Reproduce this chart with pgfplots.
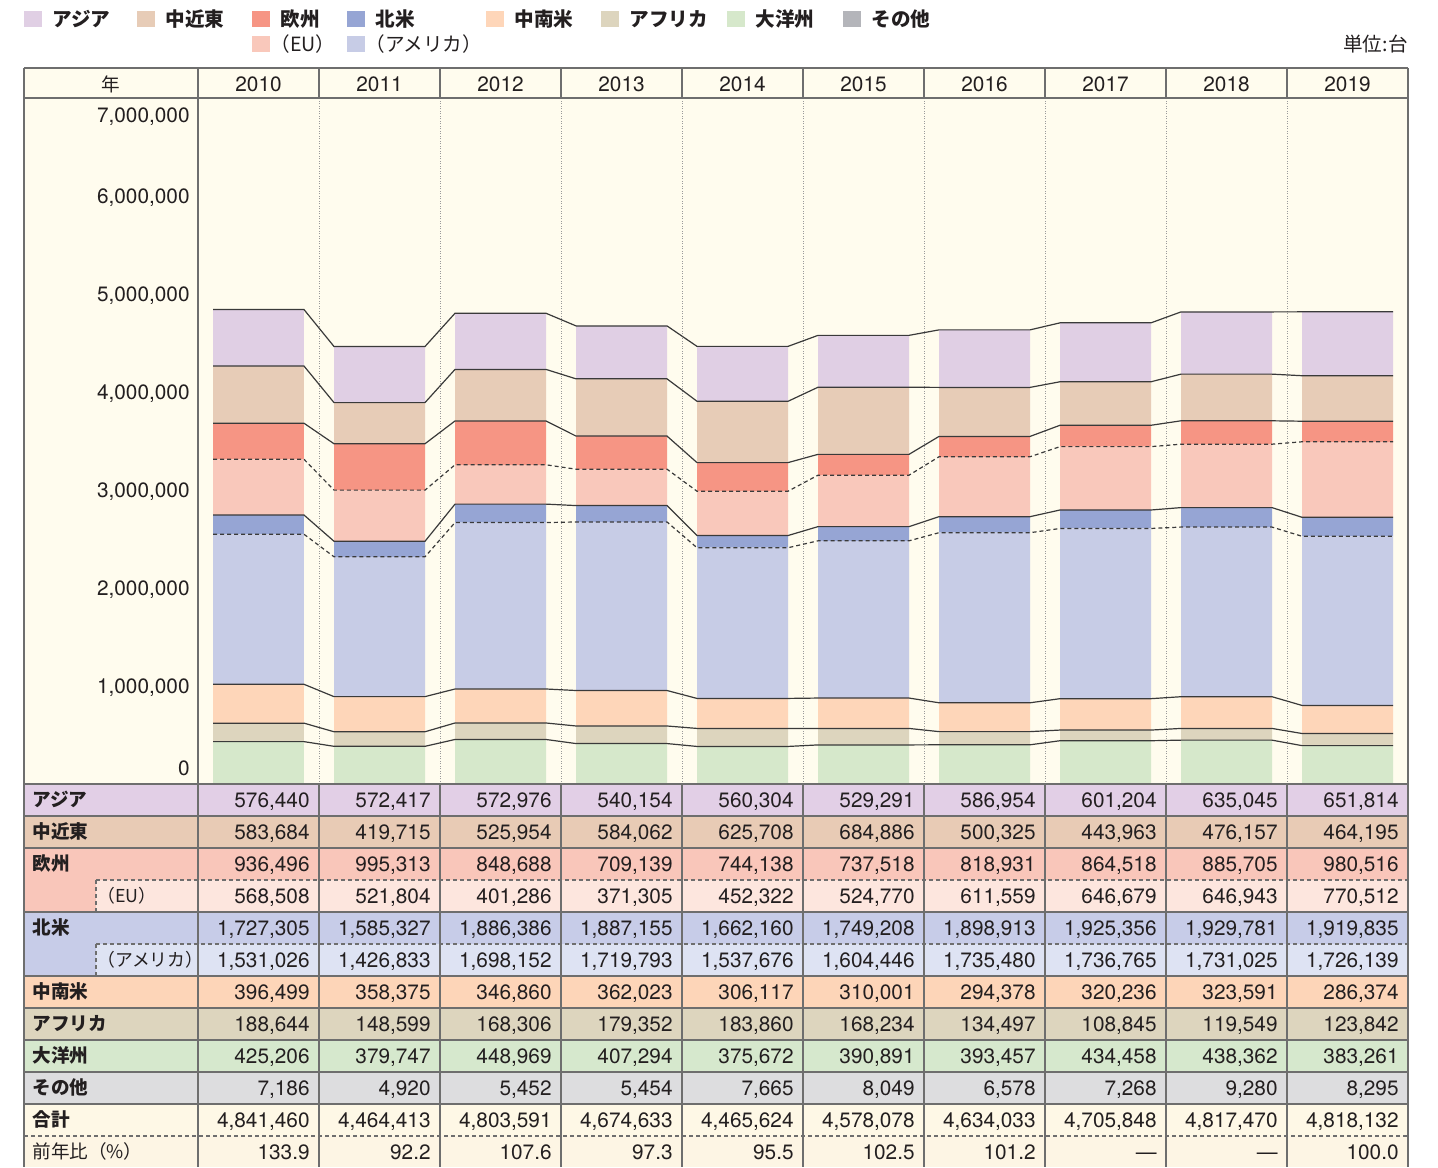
\documentclass[border=0pt]{standalone}
\usepackage{pgfplots}
\usepackage{pgfplotstable}
\pgfplotsset{compat=1.18}
\usepackage{fontspec}
\setmainfont{TeX Gyre Heros}
\newfontfamily\jp{Noto Sans CJK JP}

\definecolor{bgcream}{HTML}{FFFCEE}
\definecolor{txt}{HTML}{231F20}
\definecolor{tline}{HTML}{6E6E6E}
\definecolor{gridc}{HTML}{9A9A9A}
\definecolor{segline}{HTML}{3A3A3A}
% bar colours
\definecolor{cAsia}{HTML}{E0CFE4}
\definecolor{cMe}{HTML}{E7CCB7}
\definecolor{cEur}{HTML}{F69584}
\definecolor{cEU}{HTML}{F9C8BB}
\definecolor{cNam}{HTML}{96A5D4}
\definecolor{cUSA}{HTML}{C7CCE6}
\definecolor{cLat}{HTML}{FED6B9}
\definecolor{cAfr}{HTML}{DDD5BE}
\definecolor{cOce}{HTML}{D6E8CB}
\definecolor{cOth}{HTML}{B4B5BA}
% table row colours
\definecolor{rAsia}{HTML}{E2CFE6}
\definecolor{rMe}{HTML}{E8CBB5}
\definecolor{rEur}{HTML}{F9C6BA}
\definecolor{rEU}{HTML}{FDE6DE}
\definecolor{rNam}{HTML}{C7CCE8}
\definecolor{rUSA}{HTML}{DEE3F3}
\definecolor{rLat}{HTML}{FDD5B8}
\definecolor{rAfr}{HTML}{DDD5BE}
\definecolor{rOce}{HTML}{D6E8CD}
\definecolor{rOth}{HTML}{DDDDDF}
\definecolor{rTot}{HTML}{FEF8E6}
\definecolor{rYoy}{HTML}{FDF5E4}

\newcommand\nf{\fontsize{10.4pt}{12pt}\selectfont}
\newcommand\jf{\jp\fontsize{9.3pt}{11pt}\selectfont}
\newcommand\jsub{\jp\fontsize{8.9pt}{11pt}\selectfont}
\newcommand\jleg{\jp\fontsize{9.8pt}{11pt}\selectfont}
\newcommand\yl[2]{\smash{\raisebox{#1}{#2}}}

\ExplSyntaxOn
\cs_new:Npn \rs_three:n #1
  {
    \int_compare:nNnT {#1} < {100} {0}
    \int_compare:nNnT {#1} < {10} {0}
    \int_eval:n {#1}
  }
\cs_new:Npn \rs_commify:n #1
  {
    \int_compare:nNnTF {#1} < {1000}
      { \int_eval:n {#1} }
      {
        \rs_commify:n { \int_div_truncate:nn {#1} {1000} } ,
        \rs_three:n { \int_mod:nn {#1} {1000} }
      }
  }
\NewDocumentCommand \commify { m } { \rs_commify:n {#1} }
\ExplSyntaxOff

% exports by region, units
\pgfplotstableread{
x year asia me eur eu nam usa lat afr oce oth total yoy
0 2010 576440 583684 936496 568508 1727305 1531026 396499 188644 425206 7186 4841460 133.9
1 2011 572417 419715 995313 521804 1585327 1426833 358375 148599 379747 4920 4464413 92.2
2 2012 572976 525954 848688 401286 1886386 1698152 346860 168306 448969 5452 4803591 107.6
3 2013 540154 584062 709139 371305 1887155 1719793 362023 179352 407294 5454 4674633 97.3
4 2014 560304 625708 744138 452322 1662160 1537676 306117 183860 375672 7665 4465624 95.5
5 2015 529291 684886 737518 524770 1749208 1604446 310001 168234 390891 8049 4578078 102.5
6 2016 586954 500325 818931 611559 1898913 1735480 294378 134497 393457 6578 4634033 101.2
7 2017 601204 443963 864518 646679 1925356 1736765 320236 108845 434458 7268 4705848 —
8 2018 635045 476157 885705 646943 1929781 1731025 323591 119549 438362 9280 4817470 —
9 2019 651814 464195 980516 770512 1919835 1726139 286374 123842 383261 8295 4818132 100.0
}\data

% each year twice (left and right bar edge) for the connector lines
\pgfplotstablevertcat{\dd}{\data}
\pgfplotstablevertcat{\dd}{\data}
\pgfplotstablecreatecol[create col/expr={\thisrow{x}+(\pgfplotstablerow<10 ? -0.376 : 0.376)}]{xx}{\dd}
\pgfplotstablesort[sort key=xx]{\dds}{\dd}

\tikzset{
  tl/.style={draw=tline, line width=0.7pt},
  tld/.style={draw=tline, line width=0.7pt, dash pattern=on 2pt off 1.5pt},
  lab/.style={anchor=base west, inner sep=0pt, text=txt},
  segS/.style={draw=segline, line width=0.6pt},
  segD/.style={draw=segline, line width=0.6pt, dash pattern=on 2pt off 1.5pt},
}

\begin{document}
\begin{tikzpicture}
\begin{scope}[x=0.5pt,y=-0.5pt]
\useasboundingbox (0,0) rectangle (1438,1167);
\fill[bgcream] (24,68) rectangle (1408,98);
\fill[bgcream] (24,98) rectangle (198,784);
\fill[rAsia] (24,784) rectangle (1408,816);
\fill[rMe] (24,816) rectangle (1408,848);
\fill[rEur] (24,848) rectangle (1408,912);
\fill[rEU] (96,880) rectangle (1408,912);
\fill[rNam] (24,912) rectangle (1408,976);
\fill[rUSA] (96,944) rectangle (1408,976);
\fill[rLat] (24,976) rectangle (1408,1008);
\fill[rAfr] (24,1008) rectangle (1408,1040);
\fill[rOce] (24,1040) rectangle (1408,1072);
\fill[rOth] (24,1072) rectangle (1408,1104);
\fill[rTot] (24,1104) rectangle (1408,1136);
\fill[rYoy] (24,1136) rectangle (1408,1167);
\end{scope}

\begin{axis}[
  at={(99pt,-392pt)}, anchor=south west,
  scale only axis, width=605pt, height=343pt,
  xmin=-0.5, xmax=9.5, ymin=0, ymax=7000000,
  axis background/.style={fill=bgcream},
  axis line style={draw=tline, line width=0.7pt},
  ybar stacked, bar width=0.752,
  xtick={0,...,9},
  xticklabels from table={\data}{year},
  xticklabel pos=upper,
  xticklabel style={anchor=base, inner sep=0pt, yshift=3.4pt, font=\nf, text=txt},
  minor xtick={0.5,1.5,...,8.5},
  xminorgrids,
  minor grid style={draw=gridc, line width=0.5pt, dash pattern=on 0.5pt off 0.75pt},
  major tick length=0pt, minor tick length=0pt,
  ytick={0,1000000,2000000,3000000,4000000,5000000,6000000,7000000},
  yticklabels={{\yl{4.35pt}{0}},{\yl{-3.65pt}{1,000,000}},{\yl{-3.65pt}{2,000,000}},
    {\yl{-3.65pt}{3,000,000}},{\yl{-3.65pt}{4,000,000}},{\yl{-3.65pt}{5,000,000}},
    {\yl{-3.65pt}{6,000,000}},{\yl{-12.15pt}{7,000,000}}},
  yticklabel style={anchor=east, inner sep=0pt, xshift=-4pt, font=\nf, text=txt},
  scaled y ticks=false,
]
\addplot[fill=cOth, draw=none] table[x=x, y=oth] {\data};
\addplot[fill=cOce, draw=none] table[x=x, y=oce] {\data};
\addplot[fill=cAfr, draw=none] table[x=x, y=afr] {\data};
\addplot[fill=cLat, draw=none] table[x=x, y=lat] {\data};
\addplot[fill=cUSA, draw=none] table[x=x, y=usa] {\data};
\addplot[fill=cNam, draw=none] table[x=x, y expr=\thisrow{nam}-\thisrow{usa}] {\data};
\addplot[fill=cEU, draw=none] table[x=x, y=eu] {\data};
\addplot[fill=cEur, draw=none] table[x=x, y expr=\thisrow{eur}-\thisrow{eu}] {\data};
\addplot[fill=cMe, draw=none] table[x=x, y=me] {\data};
\addplot[fill=cAsia, draw=none] table[x=x, y=asia] {\data};
\end{axis}

\begin{axis}[
  at={(99pt,-392pt)}, anchor=south west,
  scale only axis, width=605pt, height=343pt,
  xmin=-0.5, xmax=9.5, ymin=0, ymax=7000000,
  hide axis, stack plots=y,
]
\addplot[draw=none] table[x=xx, y=oth] {\dds};
\addplot[segS] table[x=xx, y=oce] {\dds};
\addplot[segS] table[x=xx, y=afr] {\dds};
\addplot[segS] table[x=xx, y=lat] {\dds};
\addplot[segD] table[x=xx, y=usa] {\dds};
\addplot[segS] table[x=xx, y expr=\thisrow{nam}-\thisrow{usa}] {\dds};
\addplot[segD] table[x=xx, y=eu] {\dds};
\addplot[segS] table[x=xx, y expr=\thisrow{eur}-\thisrow{eu}] {\dds};
\addplot[segS] table[x=xx, y=me] {\dds};
\addplot[segS] table[x=xx, y=asia] {\dds};
\end{axis}

\begin{scope}[x=0.5pt,y=-0.5pt]
% table rules
\foreach \yy in {68,98,784,816,848,912,976,1008,1040,1072,1104}
  \draw[tl] (24,\yy) -- (1408,\yy);
\draw[tld] (96,880) -- (1408,880);
\draw[tld] (96,944) -- (1408,944);
\draw[tld] (24,1136) -- (1408,1136);
\draw[tld] (96,880) -- (96,912);
\draw[tld] (96,944) -- (96,976);
\foreach \xx in {319,440,...,1287} {
  \draw[tl] (\xx,68) -- (\xx,98);
  \draw[tl] (\xx,784) -- (\xx,1167);
}
\draw[tl] (24,68) -- (24,1167);
\draw[tl] (198,68) -- (198,1167);
\draw[tl] (1408,68) -- (1408,1167);

% header
\node[anchor=base, inner sep=0pt, text=txt, font=\jf] at (111,91) {年};

% row labels
\node[lab, font=\jf\bfseries] at (32,806) {アジア};
\node[lab, font=\jf\bfseries] at (32,838) {中近東};
\node[lab, font=\jf\bfseries] at (32,870) {欧州};
\node[lab, font=\jsub] at (97,902) {（EU）};
\node[lab, font=\jf\bfseries] at (32,934) {北米};
\node[lab, font=\jsub] at (97,966) {（アメリカ）};
\node[lab, font=\jf\bfseries] at (32,998) {中南米};
\node[lab, font=\jf\bfseries] at (32,1030) {アフリカ};
\node[lab, font=\jf\bfseries] at (32,1062) {大洋州};
\node[lab, font=\jf\bfseries] at (32,1094) {その他};
\node[lab, font=\jf\bfseries] at (32,1126) {合計};
\node[lab, font=\jf] at (32,1158) {前年比（\%）};

% table values
\foreach \col/\yy in {asia/784,me/816,eur/848,eu/880,nam/912,usa/944,lat/976,afr/1008,oce/1040,oth/1072,total/1104} {
  \foreach \i in {0,...,9} {
    \pgfplotstablegetelem{\i}{\col}\of\data
    \node[anchor=base east, inner sep=0pt, font=\nf, text=txt] at ({310+121*\i},{\yy+23}) {\commify{\pgfplotsretval}};
  }
}
\foreach \i in {0,...,9} {
  \pgfplotstablegetelem{\i}{yoy}\of\data
  \node[anchor=base east, inner sep=0pt, font=\nf, text=txt] at ({310+121*\i},1159) {\pgfplotsretval};
}

% legend
\foreach \sx/\cc/\lbl in {24/cAsia/アジア, 137/cMe/中近東, 252/cEur/欧州, 347/cNam/北米, 486/cLat/中南米, 601/cAfr/アフリカ, 727/cOce/大洋州, 843/cOth/その他} {
  \fill[\cc] (\sx,11) rectangle ++(18,16);
  \node[anchor=west, inner sep=0pt, font=\jleg\bfseries, text=txt] at ({\sx+28},19) {\lbl};
}
\fill[cEU] (252,36) rectangle ++(18,16);
\node[anchor=west, inner sep=0pt, font=\jleg, text=txt] at (270,44) {（EU）};
\fill[cUSA] (347,36) rectangle ++(18,16);
\node[anchor=west, inner sep=0pt, font=\jleg, text=txt] at (365,44) {（アメリカ）};
\node[anchor=east, inner sep=0pt, font=\jleg, text=txt] at (1408,44) {単位:台};
\end{scope}
\end{tikzpicture}
\end{document}
